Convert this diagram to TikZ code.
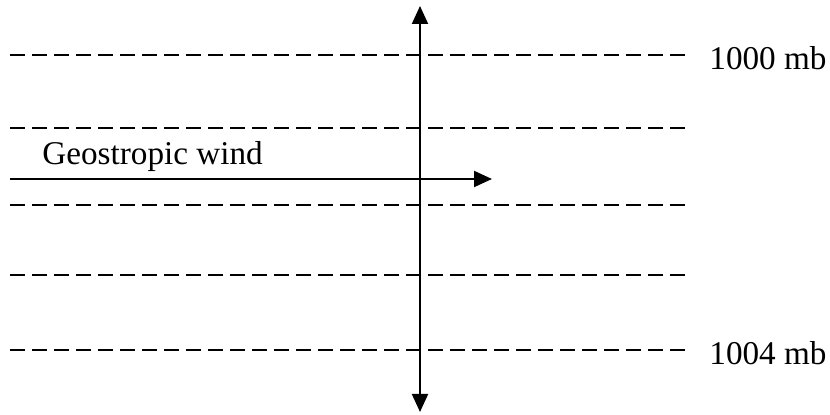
\documentclass[tikz,border=0pt]{standalone}
\usepackage{fontspec}
\setmainfont{Liberation Serif}
\usetikzlibrary{arrows.meta}
\begin{document}
\begin{tikzpicture}[x=0.5pt,y=-0.5pt,
  isobar/.style={line width=1pt,dash pattern=on 7.5pt off 3.5pt},
  axis/.style={line width=1pt,-{Triangle[length=9pt,width=8pt]}},
  lbl/.style={font=\fontsize{16.6}{19}\selectfont,inner sep=0pt}]
\useasboundingbox (0,0) rectangle (830,415);
\foreach \y/\n in {55/a,128/b,205/c,275/d,350/e}{
  \coordinate (l\n) at (10,\y);
  \coordinate (r\n) at (685,\y);
  \draw[isobar] (l\n) -- (r\n);
}
\coordinate (vc) at (420,210);
\coordinate (vt) at (420,6);
\coordinate (vb) at (420,412);
\draw[axis] (vc) -- (vt);
\draw[axis] (vc) -- (vb);
\coordinate (hs) at (10,179);
\coordinate (he) at (492,179);
\draw[axis] (hs) -- (he);
\node[lbl,anchor=base west] (gw) at (42,165) {Geostropic wind};
\node[lbl,anchor=base west] (p1) at (709,70) {1000 mb};
\node[lbl,anchor=base west] (p2) at (709,365) {1004 mb};
\end{tikzpicture}
\end{document}
